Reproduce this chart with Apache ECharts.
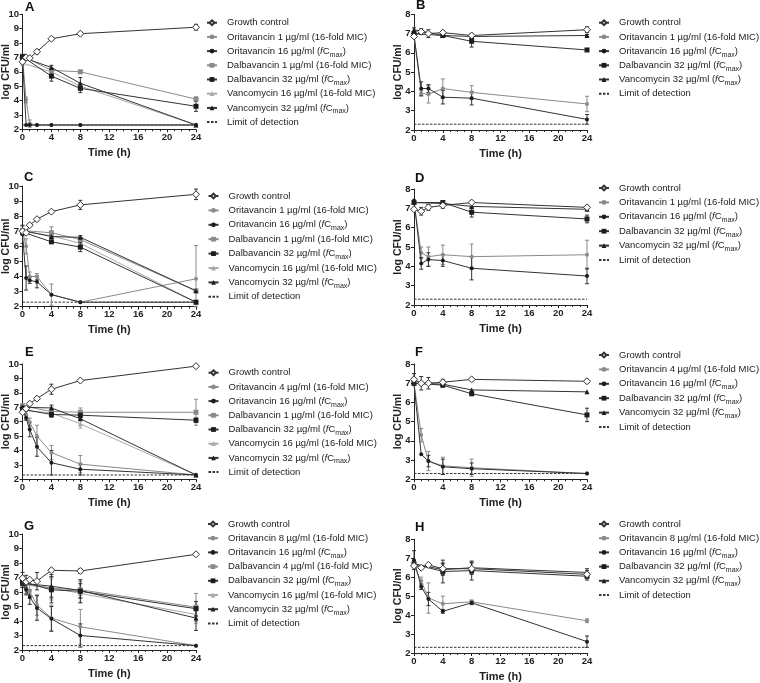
<!DOCTYPE html>
<html><head><meta charset="utf-8">
<script src="https://cdn.jsdelivr.net/npm/echarts@6/dist/echarts.min.js"></script>
<style>html,body{margin:0;padding:0;background:#fff}#c{width:760px;height:683px}</style>
</head><body><div id="c"></div>
<script>
// ---------- shared ----------
const times = [0, 0.5, 1, 2, 4, 8, 24];
const LOD = 2.3;

const N_GC = 'Growth control';
const N_ORI1 = 'Oritavancin 1 µg/ml (16-fold MIC)';
const N_ORI4 = 'Oritavancin 4 µg/ml (16-fold MIC)';
const N_ORI8 = 'Oritavancin 8 µg/ml (16-fold MIC)';
const N_ORI16 = 'Oritavancin 16 µg/ml (fCmax)';
const N_DAL1 = 'Dalbavancin 1 µg/ml (16-fold MIC)';
const N_DAL4 = 'Dalbavancin 4 µg/ml (16-fold MIC)';
const N_DAL32 = 'Dalbavancin 32 µg/ml (fCmax)';
const N_VAN16 = 'Vancomycin 16 µg/ml (16-fold MIC)';
const N_VAN32 = 'Vancomycin 32 µg/ml (fCmax)';
const N_LOD = 'Limit of detection';

// ---------- Panel A ----------
const A_gc = [6.7, 7.0, 6.95, 7.4, 8.3, 8.65, 9.1];
const A_gc_sd = [0, 0, 0, 0.15, 0, 0.05, 0.2];
const A_ori1 = [7.0, 4.05, 2.4, 2.3, 2.3, 2.3, 2.3];
const A_ori1_sd = [0, 0.2, 0.25, 0, 0, 0, 0];
const A_ori16 = [6.9, 2.3, 2.3, 2.3, 2.3, 2.3, 2.3];
const A_ori16_sd = [0.1, 0, 0, 0, 0, 0, 0];
const A_dal1 = [7.1, null, null, null, 6.1, 6.0, 4.1];
const A_dal1_sd = [0.1, 0, 0, 0, 0.15, 0.1, 0.15];
const A_dal32 = [7.05, null, null, null, 5.7, 4.85, 3.6];
const A_dal32_sd = [0, 0, 0, 0, 0.35, 0.3, 0.35];
const A_van16 = [6.6, null, null, null, 6.0, 5.0, 2.3];
const A_van16_sd = [0, 0, 0, 0, 0.1, 0.2, 0];
const A_van32 = [7.0, null, null, null, 6.3, 5.2, 2.3];
const A_van32_sd = [0, 0, 0, 0, 0.15, 0.4, 0];

// ---------- Panel B ----------
const B_gc = [6.85, null, 7.1, 7.0, 7.05, 6.9, 7.2];
const B_gc_sd = [0, 0, 0.15, 0.2, 0.05, 0.1, 0.15];
const B_ori1 = [6.9, null, 3.9, 3.85, 4.15, 3.95, 3.35];
const B_ori1_sd = [0, 0, 0.15, 0.45, 0.5, 0.35, 0.4];
const B_ori16 = [6.9, null, 4.15, 4.15, 3.7, 3.65, 2.55];
const B_ori16_sd = [0, 0, 0.35, 0.2, 0.35, 0.35, 0.25];
const B_dal32 = [7.0, null, null, null, 6.9, 6.6, 6.15];
const B_dal32_sd = [0, 0, 0, 0, 0.05, 0.3, 0.05];
const B_van32 = [7.2, null, null, null, 6.9, 6.85, 6.9];
const B_van32_sd = [0.1, 0, 0, 0, 0.1, 0.1, 0.05];

// ---------- Panel C ----------
const C_gc = [7.0, 6.9, 7.4, 7.8, 8.3, 8.75, 9.45];
const C_gc_sd = [0.1, 0, 0, 0, 0, 0.3, 0.35];
const C_ori1 = [7.0, 6.0, 4.0, 4.0, 2.8, 2.3, 3.85];
const C_ori1_sd = [0, 0.5, 0.3, 0.2, 0.7, 0, 2.2];
const C_ori16 = [6.8, 3.9, 3.75, 3.65, 2.8, 2.3, 2.3];
const C_ori16_sd = [0.6, 0.8, 0.2, 0.4, 0, 0, 0];
const C_dal1 = [7.05, null, null, null, 6.9, 6.45, 3.05];
const C_dal1_sd = [0, 0, 0, 0, 0.4, 0.25, 0.1];
const C_dal32 = [6.95, null, null, null, 6.3, 5.95, 2.3];
const C_dal32_sd = [0, 0, 0, 0, 0.05, 0.3, 0];
const C_van16 = [7.0, null, null, null, 6.7, 6.2, 2.3];
const C_van16_sd = [0, 0, 0, 0, 0.2, 0.2, 0];
const C_van32 = [7.05, null, null, null, 6.65, 6.6, 3.05];
const C_van32_sd = [0.3, 0, 0, 0, 0.1, 0.1, 0];

// ---------- Panel D ----------
const D_gc = [6.95, null, 6.85, 7.05, 7.15, 7.3, 7.05];
const D_gc_sd = [0, 0, 0.2, 0.15, 0.15, 0, 0.1];
const D_ori1 = [7.3, null, 4.7, 4.5, 4.6, 4.5, 4.6];
const D_ori1_sd = [0, 0, 0.3, 0.5, 0.5, 0.65, 0.75];
const D_ori16 = [7.4, null, 4.15, 4.35, 4.3, 3.9, 3.5];
const D_ori16_sd = [0, 0, 0.3, 0.35, 0.3, 0.6, 0.4];
const D_dal32 = [7.3, null, null, null, 7.3, 6.8, 6.45];
const D_dal32_sd = [0.1, 0, 0, 0, 0.05, 0.25, 0.2];
const D_van32 = [7.3, null, null, null, 7.25, 7.1, 6.95];
const D_van32_sd = [0, 0, 0, 0, 0, 0, 0];

// ---------- Panel E ----------
const E_gc = [6.65, 6.9, 7.25, 7.6, 8.25, 8.85, 9.85];
const E_gc_sd = [0, 0, 0, 0, 0.35, 0, 0];
const E_ori4 = [6.9, 6.5, 5.95, 5.0, 3.85, 3.05, 2.3];
const E_ori4_sd = [0, 0.2, 0.3, 0.75, 0.5, 0.6, 0];
const E_ori16 = [7.0, 6.25, 5.45, 4.25, 3.15, 2.7, 2.3];
const E_ori16_sd = [0, 0.15, 0.5, 0.65, 0.85, 0.4, 0];
const E_dal1 = [7.1, null, null, null, 6.7, 6.65, 6.65];
const E_dal1_sd = [0, 0, 0, 0, 0.3, 0.3, 0.9];
const E_dal32 = [6.85, null, null, null, 6.5, 6.45, 6.1];
const E_dal32_sd = [0, 0, 0, 0, 0.2, 0.2, 0.15];
const E_van16 = [6.8, null, null, null, 6.6, 5.85, 2.3];
const E_van16_sd = [0, 0, 0, 0, 0.1, 0.3, 0];
const E_van32 = [7.0, null, null, null, 6.95, 6.2, 2.3];
const E_van32_sd = [0, 0, 0, 0, 0.2, 0.1, 0];

// ---------- Panel F ----------
const F_gc = [7.2, null, 7.0, 7.0, 7.05, 7.2, 7.1];
const F_gc_sd = [0.3, 0, 0.35, 0.3, 0.15, 0, 0.1];
const F_ori4 = [7.0, null, 4.3, 2.95, 2.7, 2.6, 2.3];
const F_ori4_sd = [0, 0, 0.35, 0.5, 0.45, 0.45, 0];
const F_ori16 = [6.95, null, 3.3, 2.95, 2.65, 2.55, 2.3];
const F_ori16_sd = [0, 0, 0, 0.3, 0.4, 0.3, 0];
const F_dal32 = [7.0, null, null, null, 6.9, 6.45, 5.35];
const F_dal32_sd = [0, 0, 0, 0, 0.1, 0, 0.35];
const F_van32 = [7.0, null, null, null, 6.95, 6.65, 6.55];
const F_van32_sd = [0, 0, 0, 0, 0, 0, 0];

// ---------- Panel G ----------
const G_gc = [6.95, 6.7, 6.85, 6.75, 7.5, 7.45, 8.6];
const G_gc_sd = [0.4, 0.45, 0, 0.6, 0.1, 0.15, 0];
const G_ori8 = [6.6, 6.3, 6.05, 5.1, 4.2, 3.6, 2.3];
const G_ori8_sd = [0.3, 0.4, 0.5, 0.7, 0.9, 1.2, 0];
const G_ori16 = [6.6, 6.15, 5.65, 4.9, 4.15, 3.0, 2.3];
const G_ori16_sd = [0.3, 0.35, 0.5, 0.85, 0.85, 0.8, 0];
const G_dal4 = [6.6, null, null, null, 6.25, 6.15, 4.95];
const G_dal4_sd = [0.2, 0, 0, 0, 0.8, 0.6, 0.95];
const G_dal32 = [6.7, null, null, null, 6.15, 6.05, 4.85];
const G_dal32_sd = [0, 0, 0, 0, 0.9, 0.8, 0.5];
const G_van16 = [6.5, null, null, null, 6.3, 5.9, 4.45];
const G_van16_sd = [0, 0, 0, 0, 0.6, 0.6, 0.6];
const G_van32 = [6.6, null, null, null, 6.4, 6.1, 4.2];
const G_van32_sd = [0, 0, 0, 0, 0.8, 0.5, 0.85];

// ---------- Panel H ----------
const H_gc = [6.6, null, 6.5, 6.65, 6.45, 6.45, 6.15];
const H_gc_sd = [0, 0, 0, 0, 0.3, 0.3, 0.2];
const H_ori8 = [6.6, null, 5.8, 4.9, 4.6, 4.7, 3.7];
const H_ori8_sd = [0, 0, 0.2, 0.8, 0.4, 0.1, 0.1];
const H_ori16 = [6.9, null, 5.5, 4.85, 4.2, 4.65, 2.6];
const H_ori16_sd = [0.5, 0, 0.15, 0.35, 0.1, 0.1, 0.3];
const H_dal32 = [6.7, null, null, null, 6.3, 6.35, 6.05];
const H_dal32_sd = [0, 0, 0, 0, 0.6, 0.5, 0.2];
const H_van32 = [6.7, null, null, null, 6.4, 6.5, 6.25];
const H_van32_sd = [0, 0, 0, 0, 0.3, 0.3, 0.2];

// ---------- styles ----------
const BLK = '#1c1c1c', LINE_BLK = '#333', GRY = '#8a8a8a', LGRY = '#a9a9a9';
const styles = {
  gc:     {symbol: 'diamond',  size: 7, fill: '#fff', stroke: LINE_BLK, line: LINE_BLK, z: 10},
  oriLow: {symbol: 'circle',   size: 4, fill: GRY, stroke: GRY, line: GRY, z: 5},
  ori16:  {symbol: 'circle',   size: 4, fill: BLK, stroke: BLK, line: LINE_BLK, z: 6},
  dalLow: {symbol: 'rect',     size: 5, fill: GRY, stroke: GRY, line: GRY, z: 5},
  dal32:  {symbol: 'rect',     size: 5, fill: BLK, stroke: BLK, line: LINE_BLK, z: 6},
  van16:  {symbol: 'triangle', size: 5, fill: LGRY, stroke: LGRY, line: LGRY, z: 4},
  van32:  {symbol: 'triangle', size: 5, fill: BLK, stroke: BLK, line: LINE_BLK, z: 6}
};

const FONT = '"Liberation Sans", Arial, Helvetica, sans-serif';

const panels = [
  {L: 'A', yMax: 10, grid: {left: 22, top: 14.3, width: 174, height: 115}, letter: [30, 8], legend: {left: 206, top: 15.7, gap: 0.2},
   series: [['gc', N_GC, A_gc, A_gc_sd], ['oriLow', N_ORI1, A_ori1, A_ori1_sd], ['ori16', N_ORI16, A_ori16, A_ori16_sd],
            ['dalLow', N_DAL1, A_dal1, A_dal1_sd], ['dal32', N_DAL32, A_dal32, A_dal32_sd],
            ['van16', N_VAN16, A_van16, A_van16_sd], ['van32', N_VAN32, A_van32, A_van32_sd]]},
  {L: 'B', yMax: 8, grid: {left: 414, top: 14.3, width: 173, height: 115.7}, letter: [421, 6], legend: {left: 598, top: 15.7, gap: 0.2},
   series: [['gc', N_GC, B_gc, B_gc_sd], ['oriLow', N_ORI1, B_ori1, B_ori1_sd], ['ori16', N_ORI16, B_ori16, B_ori16_sd],
            ['dal32', N_DAL32, B_dal32, B_dal32_sd], ['van32', N_VAN32, B_van32, B_van32_sd]]},
  {L: 'C', yMax: 10, grid: {left: 22, top: 186, width: 174, height: 120.7}, letter: [29, 178], legend: {left: 207.5, top: 189, gap: 0.4},
   series: [['gc', N_GC, C_gc, C_gc_sd], ['oriLow', N_ORI1, C_ori1, C_ori1_sd], ['ori16', N_ORI16, C_ori16, C_ori16_sd],
            ['dalLow', N_DAL1, C_dal1, C_dal1_sd], ['dal32', N_DAL32, C_dal32, C_dal32_sd],
            ['van16', N_VAN16, C_van16, C_van16_sd], ['van32', N_VAN32, C_van32, C_van32_sd]]},
  {L: 'D', yMax: 8, grid: {left: 414, top: 189, width: 173, height: 116}, letter: [420, 179], legend: {left: 598, top: 181, gap: 0.4},
   series: [['gc', N_GC, D_gc, D_gc_sd], ['oriLow', N_ORI1, D_ori1, D_ori1_sd], ['ori16', N_ORI16, D_ori16, D_ori16_sd],
            ['dal32', N_DAL32, D_dal32, D_dal32_sd], ['van32', N_VAN32, D_van32, D_van32_sd]]},
  {L: 'E', yMax: 10, grid: {left: 22, top: 364, width: 174, height: 115.3}, letter: [30, 353], legend: {left: 207.5, top: 365.7, gap: 0.2},
   series: [['gc', N_GC, E_gc, E_gc_sd], ['oriLow', N_ORI4, E_ori4, E_ori4_sd], ['ori16', N_ORI16, E_ori16, E_ori16_sd],
            ['dalLow', N_DAL1, E_dal1, E_dal1_sd], ['dal32', N_DAL32, E_dal32, E_dal32_sd],
            ['van16', N_VAN16, E_van16, E_van16_sd], ['van32', N_VAN32, E_van32, E_van32_sd]]},
  {L: 'F', yMax: 8, grid: {left: 414, top: 364, width: 173, height: 115.3}, letter: [420, 353], legend: {left: 598, top: 348, gap: 0.4},
   series: [['gc', N_GC, F_gc, F_gc_sd], ['oriLow', N_ORI4, F_ori4, F_ori4_sd], ['ori16', N_ORI16, F_ori16, F_ori16_sd],
            ['dal32', N_DAL32, F_dal32, F_dal32_sd], ['van32', N_VAN32, F_van32, F_van32_sd]]},
  {L: 'G', yMax: 10, grid: {left: 22, top: 534, width: 174, height: 116}, letter: [29, 527], legend: {left: 207, top: 517, gap: 0.2},
   series: [['gc', N_GC, G_gc, G_gc_sd], ['oriLow', N_ORI8, G_ori8, G_ori8_sd], ['ori16', N_ORI16, G_ori16, G_ori16_sd],
            ['dalLow', N_DAL4, G_dal4, G_dal4_sd], ['dal32', N_DAL32, G_dal32, G_dal32_sd],
            ['van16', N_VAN16, G_van16, G_van16_sd], ['van32', N_VAN32, G_van32, G_van32_sd]]},
  {L: 'H', yMax: 8, grid: {left: 414, top: 539.3, width: 173, height: 116.4}, letter: [420, 528], legend: {left: 598, top: 517, gap: 0.2},
   series: [['gc', N_GC, H_gc, H_gc_sd], ['oriLow', N_ORI8, H_ori8, H_ori8_sd], ['ori16', N_ORI16, H_ori16, H_ori16_sd],
            ['dal32', N_DAL32, H_dal32, H_dal32_sd], ['van32', N_VAN32, H_van32, H_van32_sd]]}
];

const grids = [], xAxes = [], yAxes = [], series = [], legends = [], graphics = [];

function legendFormatter(name) {
  if (name.indexOf('(fCmax)') >= 0) {
    return name.replace('(fCmax)', '') + '({i|f}C{s|max})';
  }
  return name;
}

panels.forEach((p, gi) => {
  grids.push(Object.assign({containLabel: false}, p.grid));
  xAxes.push({
    type: 'value', gridIndex: gi, min: 0, max: 24, interval: 4,
    axisLine: {show: true, lineStyle: {color: '#222', width: 1}},
    axisTick: {show: true, length: 3, lineStyle: {color: '#222'}},
    minorTick: {show: true, splitNumber: 4, length: 2, lineStyle: {color: '#222'}},
    splitLine: {show: false},
    axisLabel: {margin: 3, color: '#222', fontFamily: FONT, fontWeight: 'bold', fontSize: 9.5},
    name: 'Time (h)', nameLocation: 'middle', nameGap: 18, nameMoveOverlap: false,
    nameTextStyle: {color: '#222', fontFamily: FONT, fontWeight: 'bold', fontSize: 11}
  });
  yAxes.push({
    type: 'value', gridIndex: gi, min: 2, max: p.yMax, interval: 1,
    axisLine: {show: true, lineStyle: {color: '#222', width: 1}},
    axisTick: {show: true, length: 3, lineStyle: {color: '#222'}},
    splitLine: {show: false},
    axisLabel: {margin: 3.5, color: '#222', fontFamily: FONT, fontWeight: 'bold', fontSize: 9.5},
    name: 'log CFU/ml', nameLocation: 'middle', nameGap: 10.5, nameMoveOverlap: false,
    nameTextStyle: {color: '#222', fontFamily: FONT, fontWeight: 'bold', fontSize: 10.5}
  });
  const names = [];
  p.series.forEach(([kind, name, vals, sd]) => {
    const st = styles[kind];
    names.push(name);
    const data = [];
    const err = [];
    times.forEach((t, i) => {
      if (vals[i] == null) return;
      data.push([t, vals[i]]);
      if (sd[i] > 0) err.push([t, Math.max(2, vals[i] - sd[i]), vals[i] + sd[i]]);
    });
    series.push({
      type: 'custom', name: name + ' SD', xAxisIndex: gi, yAxisIndex: gi, z: st.z - 1,
      clip: false, silent: true,
      encode: {x: 0, y: [1, 2]},
      renderItem: (params, api) => {
        const x = api.value(0), lo = api.value(1), hi = api.value(2);
        const a = api.coord([x, hi]), b = api.coord([x, lo]);
        const w = 2;
        const s = {stroke: st.line, lineWidth: 1};
        return {type: 'group', children: [
          {type: 'line', shape: {x1: a[0], y1: a[1], x2: b[0], y2: b[1]}, style: s},
          {type: 'line', shape: {x1: a[0] - w, y1: a[1], x2: a[0] + w, y2: a[1]}, style: s},
          {type: 'line', shape: {x1: b[0] - w, y1: b[1], x2: b[0] + w, y2: b[1]}, style: s}
        ]};
      },
      data: err
    });
    series.push({
      type: 'line', name: name, xAxisIndex: gi, yAxisIndex: gi, z: st.z,
      data: data, clip: false,
      symbol: st.symbol, symbolSize: st.size, showSymbol: true,
      lineStyle: {color: st.line, width: 1},
      itemStyle: {color: st.fill, borderColor: st.stroke, borderWidth: st.symbol === 'diamond' ? 1 : 0},
      emphasis: {disabled: true}
    });
  });
  names.push(N_LOD);
  series.push({
    type: 'line', name: N_LOD, xAxisIndex: gi, yAxisIndex: gi, z: 2,
    data: [[0, LOD], [24, LOD]], symbol: 'none',
    lineStyle: {color: '#333', width: 1, type: [2.5, 1.5]},
    itemStyle: {color: 'rgba(0,0,0,0)', borderColor: 'rgba(0,0,0,0)'},
    emphasis: {disabled: true}
  });
  legends.push({
    orient: 'vertical', left: p.legend.left, top: p.legend.top,
    itemWidth: 10, itemHeight: 6, itemGap: p.legend.gap,
    padding: 0, selectedMode: false,
    data: names,
    formatter: legendFormatter,
    textStyle: {
      fontFamily: FONT, fontSize: 9.5, color: '#222', lineHeight: 14, padding: [0, 0, 0, 5],
      rich: {
        i: {fontFamily: FONT, fontSize: 9.5, fontStyle: 'italic', color: '#222', lineHeight: 14},
        s: {fontFamily: FONT, fontSize: 7, color: '#222', lineHeight: 14, verticalAlign: 'bottom'}
      }
    }
  });
  graphics.push({
    type: 'text', left: p.letter[0] - 5, top: p.letter[1] - 7,
    style: {text: p.L, font: 'bold 13px ' + FONT, fill: '#111'}
  });
});

const chart = echarts.init(document.getElementById('c'), null, {renderer: 'canvas'});
chart.setOption({
  animation: false,
  backgroundColor: '#fff',
  grid: grids, xAxis: xAxes, yAxis: yAxes,
  legend: legends,
  series: series,
  graphic: graphics
});
</script>
</body></html>
